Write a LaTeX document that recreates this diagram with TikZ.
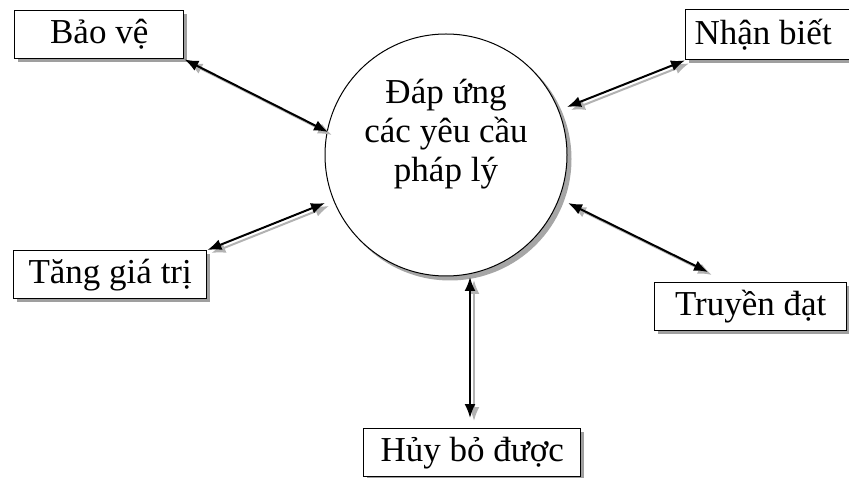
\documentclass[tikz,border=0pt]{standalone}
\usepackage{fontspec}
\setmainfont{Liberation Serif}
\usetikzlibrary{arrows.meta}
\begin{document}
\begin{tikzpicture}[x=1pt,y=-1pt,
  txt/.style={font=\fontsize{35}{39}\selectfont},
  box/.style={draw, line width=1.4pt, fill=white, inner sep=0pt, anchor=north west, txt},
  boxsh/.style={fill=gray!75, draw=none},
  arr/.style={{Latex[length=14pt,width=11pt]}-{Latex[length=14pt,width=11pt]}, line width=2pt},
  arrsh/.style={arr, draw=gray!60, transform canvas={shift={(4pt,-3pt)}}}
]
\useasboundingbox (0,0) rectangle (849,478);
% circle
\fill[gray!70] (450,159) circle (121.5);
\node[circle, draw, line width=1pt, fill=white, minimum size=242pt, inner sep=0pt] (c) at (446,155) {};
\node[txt, align=center, anchor=north] (ct) at (446,76) {Đáp ứng\\các yêu cầu\\pháp lý};
% box shadows
\fill[boxsh] (18,14) rectangle ++(169,48);
\fill[boxsh] (689,13) rectangle ++(167,50);
\fill[boxsh] (17,254) rectangle ++(193,48);
\fill[boxsh] (658,286) rectangle ++(192,48);
\fill[boxsh] (367,432) rectangle ++(217,48);
% boxes
\node[box, minimum width=169pt, minimum height=48pt] (bv) at (14,10) {Bảo vệ};
\node[box, minimum width=167pt, minimum height=50pt] (nb) at (685,9) {Nhận biết\hspace*{12pt}};
\node[box, minimum width=193pt, minimum height=48pt] (tg) at (13,250) {Tăng giá trị};
\node[box, minimum width=192pt, minimum height=48pt] (td) at (654,282) {Truyền đạt};
\node[box, minimum width=217pt, minimum height=48pt] (hb) at (363,428) {Hủy bỏ được};
% arrow ends
\coordinate (a1) at (328,132);
\coordinate (a2) at (567,107);
\coordinate (a3) at (325,203);
\coordinate (a4) at (568,203);
\coordinate (a5) at (708,272);
\coordinate (a6) at (470,277);
\coordinate (a7) at (470,418);
% arrow shadows
\draw[arrsh] (bv.south east) -- (a1);
\draw[arrsh] (nb.south west) -- (a2);
\draw[arrsh] (tg.north east) -- (a3);
\draw[arrsh] (a4) -- (a5);
\draw[arrsh] (a6) -- (a7);
% arrows
\draw[arr] (bv.south east) -- (a1);
\draw[arr] (nb.south west) -- (a2);
\draw[arr] (tg.north east) -- (a3);
\draw[arr] (a4) -- (a5);
\draw[arr] (a6) -- (a7);
\end{tikzpicture}
\end{document}
